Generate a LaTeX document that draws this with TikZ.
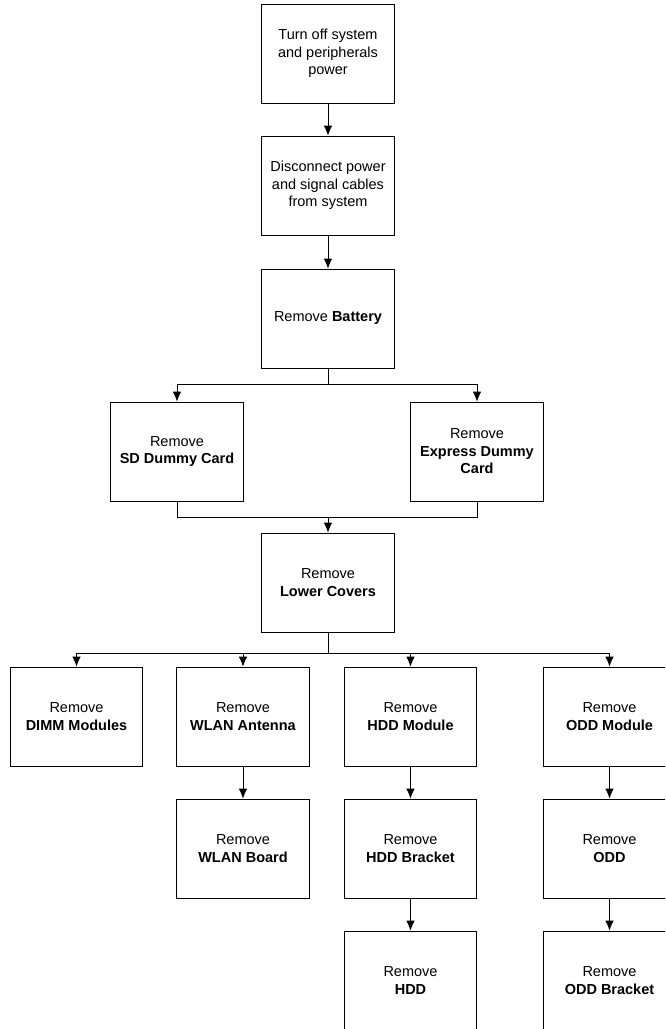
\documentclass[tikz,border=0pt]{standalone}
\usepackage{fontspec}
\setmainfont{Liberation Sans}
\usepackage{tikz}
\usetikzlibrary{arrows.meta, positioning}

\tikzset{
    stepbox/.style={draw, line width=0.8pt, minimum width=132.5pt, minimum height=99pt,
        inner sep=0pt, align=center, font=\fontsize{14.5}{17.5}\selectfont},
    link/.style={line width=0.8pt}
}

\begin{document}
\begin{tikzpicture}[x=1pt, y=-1pt, >={Latex[length=10pt,width=8.5pt]}]
    % Rahmen des Bildes
    \clip (0,0) rectangle (665,1029);

    % Vorbereitung
    \node[stepbox] (off)   at (328,53.5)  {Turn off system\\and peripherals\\power};
    \node[stepbox] (disc)  at (328,185.5) {Disconnect power\\and signal cables\\from system};
    \node[stepbox] (batt)  at (328,318.5) {Remove \textbf{Battery}};

    % Karten
    \node[stepbox] (sd)    at (177,451.5) {Remove\\\textbf{SD Dummy Card}};
    \node[stepbox] (expr)  at (477,451.5) {Remove\\\textbf{Express Dummy}\\\textbf{Card}};
    \node[stepbox] (lower) at (328,582.5) {Remove\\\textbf{Lower Covers}};

    % Module
    \node[stepbox] (dimm)  at (76.5,716.5)  {Remove\\\textbf{DIMM Modules}};
    \node[stepbox] (wlana) at (243,716.5)   {Remove\\\textbf{WLAN Antenna}};
    \node[stepbox] (hddm)  at (410.5,716.5) {Remove\\\textbf{HDD Module}};
    \node[stepbox] (oddm)  at (609.5,716.5) {Remove\\\textbf{ODD Module}};
    \node[stepbox] (wlanb) at (243,848.5)   {Remove\\\textbf{WLAN Board}};
    \node[stepbox] (hddb)  at (410.5,848.5) {Remove\\\textbf{HDD Bracket}};
    \node[stepbox] (odd)   at (609.5,848.5) {Remove\\\textbf{ODD}};
    \node[stepbox] (hdd)   at (410.5,980.5) {Remove\\\textbf{HDD}};
    \node[stepbox] (oddb)  at (609.5,980.5) {Remove\\\textbf{ODD Bracket}};

    % Verzweigungspunkte
    \coordinate (split) at (328,384);
    \coordinate (merge) at (328,517);
    \coordinate (row)   at (328,653);

    % Verbindungen
    \draw[link,->] (off) -- (disc);
    \draw[link,->] (disc) -- (batt);
    \draw[link] (batt) -- (split);
    \draw[link,->] (split) -| (sd);
    \draw[link,->] (split) -| (expr);
    \draw[link] (sd) |- (merge);
    \draw[link] (expr) |- (merge);
    \draw[link,->] (merge) -- (lower);
    \draw[link] (lower) -- (row);
    \foreach \n in {dimm,wlana,hddm,oddm} {
        \draw[link,->] (row) -| (\n);
    }
    \draw[link,->] (wlana) -- (wlanb);
    \draw[link,->] (hddm) -- (hddb);
    \draw[link,->] (hddb) -- (hdd);
    \draw[link,->] (oddm) -- (odd);
    \draw[link,->] (odd) -- (oddb);

\end{tikzpicture}
\end{document}
